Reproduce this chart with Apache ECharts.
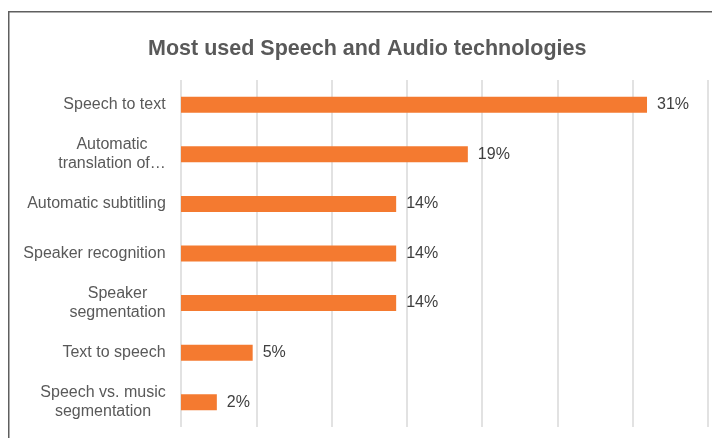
<!DOCTYPE html>
<html>
<head>
<meta charset="utf-8">
<script src="https://cdn.jsdelivr.net/npm/echarts@6/dist/echarts.min.js"></script>
<style>
html,body{margin:0;padding:0;background:#fff;}
#chart{width:712px;height:438px;}
</style>
</head>
<body>
<div id="chart"></div>
<script>
var title = 'Most used Speech and Audio technologies';
var categories = [
  'Speech to text',
  'Automatic\ntranslation of\u2026',
  'Automatic subtitling',
  'Speaker recognition',
  'Speaker\nsegmentation',
  'Text to speech',
  'Speech vs. music\nsegmentation'
];
var values = [30.95, 19.05, 14.29, 14.29, 14.29, 4.76, 2.38];
var axisMax = 35;
var axisStep = 5;

var FONT = '"Liberation Sans", Arial, sans-serif';
var labelColor = '#595959';

// measure multi-line label widths so lines are centred inside a right-aligned block
var cv = document.createElement('canvas').getContext('2d');
cv.font = '16px ' + FONT;
var rich = {};
categories.forEach(function (c, i) {
  var w = 0;
  c.split('\n').forEach(function (l) { w = Math.max(w, cv.measureText(l).width); });
  rich['c' + i] = { width: Math.ceil(w), align: 'center', fontSize: 16, color: labelColor, fontFamily: FONT, lineHeight: 19 };
});

var chart = echarts.init(document.getElementById('chart'), null, { renderer: 'canvas' });
chart.setOption({
  backgroundColor: '#ffffff',
  animation: false,
  graphic: [{
    type: 'rect',
    shape: { x: 8.75, y: 11.75, width: 760, height: 500 },
    style: { fill: 'none', stroke: '#5f5f5f', lineWidth: 1.5 },
    silent: true,
    z: 100
  }],
  title: {
    text: title,
    left: 148,
    top: 38,
    padding: 0,
    textStyle: { fontSize: 21.5, fontWeight: 'bold', color: '#595959', fontFamily: FONT }
  },
  grid: { left: 181, right: 4, top: 80, bottom: 11, containLabel: false },
  xAxis: {
    type: 'value',
    min: 0,
    max: axisMax,
    interval: axisStep,
    axisLabel: { show: false },
    axisLine: { show: false },
    axisTick: { show: false },
    splitLine: { show: true, lineStyle: { color: '#d9d9d9', width: 1.5 } }
  },
  yAxis: {
    type: 'category',
    inverse: true,
    data: categories,
    axisLine: { show: false },
    axisTick: { show: false },
    axisLabel: {
      margin: 15,
      align: 'right',
      formatter: function (v, i) {
        return v.split('\n').map(function (l) { return '{c' + i + '|' + l + '}'; }).join('\n');
      },
      rich: rich
    }
  },
  series: [{
    type: 'bar',
    data: values,
    barWidth: 16,
    itemStyle: { color: '#F47A30' },
    label: {
      show: true,
      position: 'right',
      distance: 10,
      formatter: function (p) { return Math.round(p.value) + '%'; },
      fontSize: 16,
      color: '#404040',
      fontFamily: FONT
    }
  }]
});
</script>
</body>
</html>
